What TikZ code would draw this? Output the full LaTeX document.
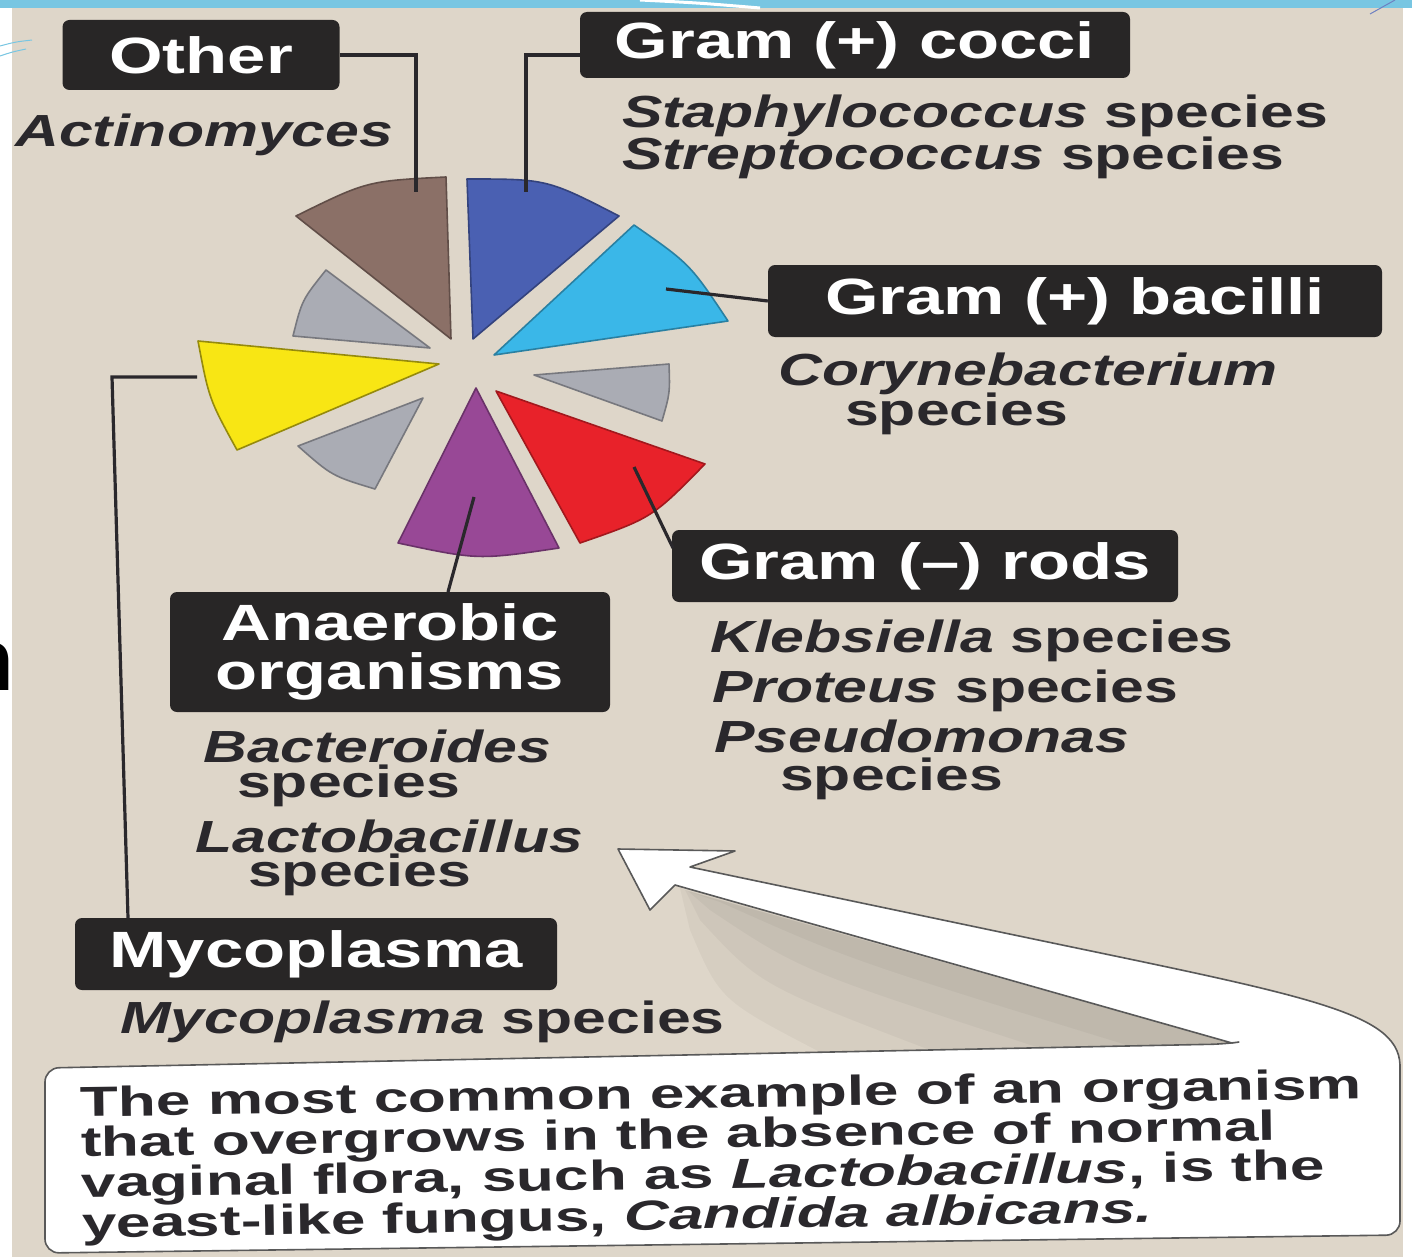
\documentclass[tikz,border=0pt]{standalone}
\usepackage{fontspec}
\newfontfamily\hv[FakeStretch=1.35]{Liberation Sans}
\newfontfamily\hvw[FakeStretch=1.48]{Liberation Sans}
\newfontfamily\plainsans{Liberation Sans}
\newcommand\mytightlines{\lineskiplimit=-60pt\relax}
\definecolor{scanbg}{RGB}{222,214,201}
\definecolor{bandblue}{RGB}{120,198,226}
\definecolor{boxdark}{RGB}{40,38,38}
\definecolor{ink}{RGB}{42,40,44}
\definecolor{cbrown}{RGB}{139,112,103}
\definecolor{cblue}{RGB}{74,96,178}
\definecolor{ccyan}{RGB}{58,183,232}
\definecolor{cgray}{RGB}{170,172,180}
\definecolor{cred}{RGB}{232,34,42}
\definecolor{cpurple}{RGB}{152,72,150}
\definecolor{cyellow}{RGB}{248,230,20}
\begin{document}
\begin{tikzpicture}[x=1pt,y=-1pt,
  lbl/.style={fill=boxdark, text=white, rounded corners=7pt, inner sep=0pt, align=center,
    font=\hv\bfseries\fontsize{51}{49}\selectfont},
  sp/.style={anchor=base west, inner sep=0pt, text=ink, font=\hv\bfseries\fontsize{45}{45}\selectfont},
  wedge/.style={line width=1.6pt, line join=round},
  lead/.style={draw=ink, line width=3.2pt},
  shadowband/.style={fill=black, opacity=0.035},
  callout/.style={fill=white, draw=black!65, line width=1.6pt, line join=round}]
\useasboundingbox (0,0) rectangle (1412,1257);
\fill[white] (0,0) rectangle (1412,1257);
% fragment of slide title behind the scan
\node[anchor=base east, inner sep=0pt, font=\plainsans\bfseries\fontsize{88}{88}\selectfont] (nfrag) at (14,690) {n};
% scanned picture background
\fill[scanbg] (12,8) rectangle (1403,1257);
% slide decoration at the top
\fill[bandblue] (0,0) rectangle (1412,8);
\draw[white, line width=3pt] (640,0) .. controls (700,3) .. (760,8);
\draw[bandblue, line width=1pt] (0,46) .. controls (15,42) .. (32,40);
\draw[bandblue, line width=1pt] (0,56) .. controls (12,52) .. (26,49);
\draw[cblue!80, line width=1pt] (1370,14) -- (1395,0);

% pie wedges
\filldraw[wedge, fill=cbrown, draw=cbrown!70!black] (451,339) -- (296,216) .. controls (367,181) .. (446,177) -- cycle;
\filldraw[wedge, fill=cblue, draw=cblue!70!black] (473,339) -- (467,179) .. controls (547,179) .. (619,216) -- cycle;
\filldraw[wedge, fill=ccyan, draw=ccyan!70!black] (494,355) -- (634,225) .. controls (690,264) .. (728,321) -- cycle;
\filldraw[wedge, fill=cgray, draw=cgray!70!black] (534,375) -- (669,364) .. controls (670,393) .. (662,421) -- cycle;
\filldraw[wedge, fill=cred, draw=cred!70!black] (496,391) -- (705,464) .. controls (652,518) .. (580,543) -- cycle;
\filldraw[wedge, fill=cpurple, draw=cpurple!70!black] (476,388) -- (559,548) .. controls (478,560) .. (398,543) -- cycle;
\filldraw[wedge, fill=cgray, draw=cgray!70!black] (423,398) -- (298,446) .. controls (332,476) .. (375,489) -- cycle;
\filldraw[wedge, fill=cyellow, draw=cyellow!60!black] (439,364) -- (198,341) .. controls (209,399) .. (237,450) -- cycle;
\filldraw[wedge, fill=cgray, draw=cgray!70!black] (430,348) -- (326,270) .. controls (302,300) .. (293,336) -- cycle;

% labels
\node[lbl, minimum width=277pt, minimum height=70pt] (other) at (201,55) {Other};
\node[lbl, minimum width=550pt, minimum height=66pt] (cocci) at (855,45) {Gram (+) cocci};
\node[lbl, minimum width=614pt, minimum height=72pt] (bacilli) at (1075,301) {Gram (+) bacilli};
\node[lbl, minimum width=506pt, minimum height=72pt] (rods) at (925,566) {Gram (–) rods};
\node[lbl, minimum width=440pt, minimum height=120pt] (anaer) at (390,652) {Anaerobic\\organisms};
\node[lbl, minimum width=482pt, minimum height=72pt] (myco) at (316,954) {Mycoplasma};

% species texts
\node[sp] (actino) at (15,147) {\itshape Actinomyces};
\node[sp] (staph) at (622,128) {\textit{Staphylococcus} species};
\node[sp] (strep) at (622,170) {\textit{Streptococcus} species};
\node[sp] (coryne) at (778,385) {\textit{Corynebacterium}};
\node[sp] (corysp) at (845,425) {species};
\node[sp] (kleb) at (710,652) {\textit{Klebsiella} species};
\node[sp] (prot) at (712,702) {\textit{Proteus} species};
\node[sp] (pseudo) at (714,752) {\textit{Pseudomonas}};
\node[sp] (pseudosp) at (780,790) {species};
\node[sp] (bact) at (203,762) {\textit{Bacteroides}};
\node[sp] (bactsp) at (237,797) {species};
\node[sp] (lacto) at (195,852) {\textit{Lactobacillus}};
\node[sp] (lactosp) at (248,886) {species};
\node[sp] (mycosp) at (120,1033) {\textit{Mycoplasma} species};

% leader lines
\coordinate (brownpt) at (416,192);
\coordinate (bluept) at (526,192);
\coordinate (coccil) at (580,55);
\coordinate (cyanpt) at (666,289);
\coordinate (redpt) at (634,467);
\coordinate (rodsl) at (673,548);
\coordinate (purppt) at (474,497);
\coordinate (anaert) at (448,592);
\coordinate (yelpt) at (197,377);
\coordinate (mycobend) at (112,377);
\coordinate (mycot) at (128,918);
\draw[lead] (other.east) -| (brownpt);
\draw[lead] (bluept) |- (coccil);
\draw[lead] (cyanpt) -- (bacilli.west);
\draw[lead] (redpt) -- (rodsl);
\draw[lead] (purppt) -- (anaert);
\draw[lead] (yelpt) -- (mycobend) -- (mycot);

% soft shadow under the arrow shaft
\fill[shadowband] (680,888) -- (1232,1043) -- (820,1052) .. controls (720,1000) .. (690,930) -- cycle;
\fill[shadowband] (685,890) -- (1232,1043) -- (930,1050) .. controls (760,985) .. (700,920) -- cycle;
\fill[shadowband] (688,891) -- (1232,1043) -- (1040,1048) .. controls (800,970) .. (710,910) -- cycle;
\fill[shadowband] (690,892) -- (1232,1043) -- (1130,1046) .. controls (850,960) .. (720,902) -- cycle;

% callout with arrow
\path[callout] (45,1160) [rounded corners=14pt] -- (45,1068) -- (1225,1044) [sharp corners] -- (1232,1043)
  -- (675,885) -- (650,910) -- (618,849) -- (735,851) -- (690,867) -- (1000,932)
  .. controls (1300,995) and (1398,1010) .. (1400,1065) [rounded corners=14pt] -- (1400,1235) -- (45,1253) -- (45,1160);
\node[anchor=north west, inner sep=0pt, align=left, rotate=0.8, text=ink,
  font=\hvw\bfseries\fontsize{42}{37.5}\selectfont] (note) at (80,1086)
  {\mytightlines The most common example of an organism\\that overgrows in the absence of normal\\vaginal flora, such as \textit{Lactobacillus}, is the\\yeast-like fungus, \textit{Candida albicans.}};
\end{tikzpicture}
\end{document}
